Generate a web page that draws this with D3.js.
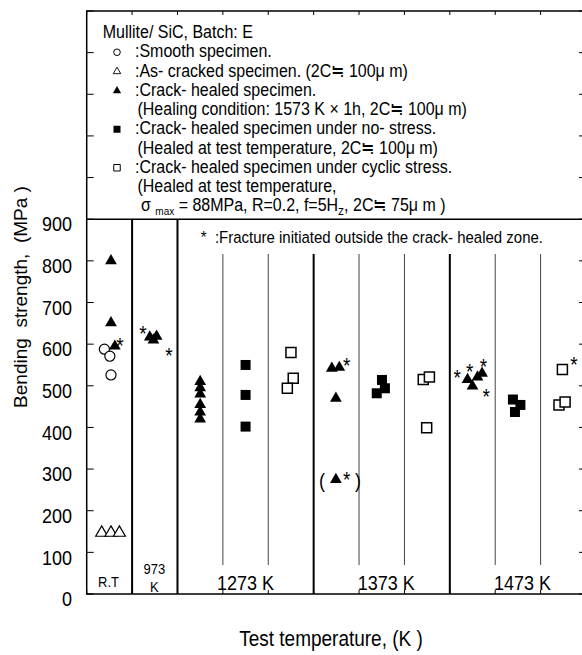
<!DOCTYPE html>
<html>
<head>
<meta charset="utf-8">
<script src="https://cdn.jsdelivr.net/npm/d3@7"></script>
<style>
  body { margin: 0; background: #fff; }
  svg { display: block; font-family: "Liberation Sans", Arial, sans-serif; }
  text { white-space: pre; }
</style>
</head>
<body>
<div id="chart"></div>
<script>
// -- data --
// pos = horizontal position in column units (each column is one unit wide), mpa = bending strength
const smooth = [{pos: 0.39, mpa: 588}, {pos: 0.51, mpa: 571}, {pos: 0.535, mpa: 526}];
const asCracked = [{pos: 0.33, mpa: 147}, {pos: 0.535, mpa: 147}, {pos: 0.72, mpa: 147}];
const crackHealed = [
  {pos: 0.535, mpa: 800}, {pos: 0.535, mpa: 651}, {pos: 0.62, mpa: 595},          // R.T
  {pos: 1.39, mpa: 617}, {pos: 1.54, mpa: 619}, {pos: 1.47, mpa: 610},            // 973 K
  {pos: 2.5, mpa: 510}, {pos: 2.5, mpa: 495}, {pos: 2.5, mpa: 480},
  {pos: 2.5, mpa: 455}, {pos: 2.5, mpa: 437}, {pos: 2.5, mpa: 420},               // 1273 K
  {pos: 5.40, mpa: 542}, {pos: 5.565, mpa: 544}, {pos: 5.49, mpa: 470},           // 1373 K
  {pos: 5.49, mpa: 275, bracketed: true},
  {pos: 8.39, mpa: 515}, {pos: 8.50, mpa: 499}, {pos: 8.61, mpa: 521}, {pos: 8.71, mpa: 530} // 1473 K
];
const healedNoStress = [
  {pos: 3.5, mpa: 550}, {pos: 3.5, mpa: 478}, {pos: 3.5, mpa: 402},
  {pos: 6.505, mpa: 514}, {pos: 6.57, mpa: 494}, {pos: 6.39, mpa: 482},
  {pos: 9.39, mpa: 467}, {pos: 9.555, mpa: 454}, {pos: 9.435, mpa: 437}
];
const healedCyclic = [
  {pos: 4.5, mpa: 580}, {pos: 4.55, mpa: 518}, {pos: 4.42, mpa: 494},
  {pos: 7.415, mpa: 515}, {pos: 7.55, mpa: 521}, {pos: 7.49, mpa: 399},
  {pos: 10.48, mpa: 539}, {pos: 10.405, mpa: 454}, {pos: 10.54, mpa: 461}
];
// asterisks: fracture initiated outside the crack-healed zone
const outsideFracture = [
  {pos: 0.73, mpa: 610}, {pos: 1.24, mpa: 638}, {pos: 1.81, mpa: 586},
  {pos: 5.73, mpa: 562}, {pos: 5.73, mpa: 287},
  {pos: 8.165, mpa: 533}, {pos: 8.44, mpa: 547}, {pos: 8.74, mpa: 560}, {pos: 8.80, mpa: 487},
  {pos: 10.735, mpa: 563}
];

const yTicks = d3.range(0, 1401, 100);
const yTickLabels = d3.range(0, 901, 100);
const thickDividers = [1, 2, 5, 8];
const thinDividers = [3, 4, 6, 7, 9, 10];
const tempLabels = [
  {pos: 0.48, lines: ["R.T"], small: true},
  {pos: 1.49, lines: ["973", "K"], small: true},
  {pos: 3.5, lines: ["1273 K"]},
  {pos: 6.6, lines: ["1373 K"]},
  {pos: 9.6, lines: ["1473 K"]}
];
const legendRows = [
  {sym: null, text: "Mullite/ SiC, Batch: E"},
  {sym: "circle", text: ":Smooth specimen."},
  {sym: "openTri", text: ":As- cracked specimen. (2C≒ 100μ m)"},
  {sym: "tri", text: ":Crack- healed specimen."},
  {sym: null, text: "(Healing condition: 1573 K × 1h, 2C≒ 100μ m)"},
  {sym: "square", text: ":Crack- healed specimen under no- stress."},
  {sym: null, text: "(Healed at test temperature, 2C≒ 100μ m)"},
  {sym: "openSquare", text: ":Crack- healed specimen under cyclic stress."},
  {sym: null, text: "(Healed at test temperature,"},
  {sym: null, text: "sigma"}
];

// -- layout --
const width = 582, height = 655;
const SY = 1.12; // the original's lettering is a little taller than wide
const x = d3.scaleLinear().domain([0, 11]).range([86.7, 586]);
const y = d3.scaleLinear().domain([0, 1400]).range([594, 11]);

const svg = d3.select("#chart").append("svg")
  .attr("width", width)
  .attr("height", height);

function label(g, px, py, str, size, anchor = "start") {
  return g.append("text")
    .attr("transform", `translate(${px},${py}) scale(1,${SY})`)
    .attr("font-size", size)
    .attr("text-anchor", anchor)
    .attr("fill", "#000")
    .text(str);
}

// frame
const frame = svg.append("g").attr("stroke", "#000").attr("fill", "none");
frame.append("rect")
  .attr("x", x(0)).attr("y", y(1400))
  .attr("width", x(11) - x(0)).attr("height", y(0) - y(1400))
  .attr("stroke-width", 1.5);
frame.append("line")
  .attr("x1", x(0)).attr("x2", x(11))
  .attr("y1", y(900)).attr("y2", y(900))
  .attr("stroke-width", 1.5);

// ticks (inward on all sides)
const tickG = svg.append("g").attr("stroke", "#000").attr("stroke-width", 1);
tickG.selectAll(".yl").data(yTicks).join("line")
  .attr("x1", x(0)).attr("x2", x(0) + 7)
  .attr("y1", d => y(d)).attr("y2", d => y(d));
tickG.selectAll(".yr").data(yTicks).join("line")
  .attr("x1", x(11)).attr("x2", x(11) - 7)
  .attr("y1", d => y(d)).attr("y2", d => y(d));
tickG.selectAll(".xt").data(d3.range(0, 12)).join("line")
  .attr("x1", d => x(d)).attr("x2", d => x(d))
  .attr("y1", y(1400)).attr("y2", y(1400) + 4);
tickG.selectAll(".xb").data(d3.range(0, 12)).join("line")
  .attr("x1", d => x(d)).attr("x2", d => x(d))
  .attr("y1", y(0)).attr("y2", y(0) - 4);

// y tick labels
const yLab = svg.append("g");
yTickLabels.forEach(v => label(yLab, 72, y(v) + 5, String(v), 18, "end").attr("dy", "0.36em"));

// column dividers
const div = svg.append("g").attr("stroke", "#000");
div.selectAll(".thick").data(thickDividers).join("line")
  .attr("x1", d => x(d)).attr("x2", d => x(d))
  .attr("y1", d => d <= 2 ? y(900) : 254).attr("y2", y(0))
  .attr("stroke-width", 2);
div.selectAll(".thin").data(thinDividers).join("line")
  .attr("x1", d => x(d)).attr("x2", d => x(d))
  .attr("y1", 254).attr("y2", 565)
  .attr("stroke", "#444")
  .attr("stroke-width", 1);

// temperature labels inside the plot
const tl = svg.append("g");
tempLabels.forEach(t => {
  if (t.small) {
    if (t.lines.length === 1) {
      label(tl, x(t.pos), 587, t.lines[0], 13, "middle");
    } else {
      label(tl, x(t.pos), 574, t.lines[0], 13, "middle");
      label(tl, x(t.pos), 592, t.lines[1], 13, "middle");
    }
  } else {
    label(tl, x(t.pos), 590, t.lines[0], 18, "middle");
  }
});

// markers
const marks = svg.append("g");
const at = d => `translate(${x(d.pos)},${y(d.mpa)})`;

marks.selectAll(".smooth").data(smooth).join("path")
  .attr("transform", at)
  .attr("d", d3.symbol(d3.symbolCircle, 80))
  .attr("fill", "#fff").attr("stroke", "#000").attr("stroke-width", 1.2);

marks.selectAll(".cracked").data(asCracked).join("path")
  .attr("transform", at)
  .attr("d", d3.symbol(d3.symbolTriangle, 62))
  .attr("fill", "#fff").attr("stroke", "#000").attr("stroke-width", 1.2);

marks.selectAll(".healed").data(crackHealed).join("path")
  .attr("transform", at)
  .attr("d", d3.symbol(d3.symbolTriangle, 60))
  .attr("fill", "#000");

marks.selectAll(".nostress").data(healedNoStress).join("path")
  .attr("transform", at)
  .attr("d", d3.symbol(d3.symbolSquare, 100))
  .attr("fill", "#000");

marks.selectAll(".cyclic").data(healedCyclic).join("path")
  .attr("transform", at)
  .attr("d", d3.symbol(d3.symbolSquare, 100))
  .attr("fill", "#fff").attr("stroke", "#000").attr("stroke-width", 1.5);

// brackets round the low 1373 K value
crackHealed.filter(d => d.bracketed).forEach(d => {
  label(marks, x(d.pos) - 14, y(d.mpa) + 9, "(", 18, "middle");
  label(marks, x(d.pos) + 22, y(d.mpa) + 9, ")", 18, "middle");
});

marks.selectAll(".star").data(outsideFracture).join("text")
  .attr("transform", d => `translate(${x(d.pos)},${y(d.mpa)}) scale(1,${SY})`)
  .attr("dy", "0.6em")
  .attr("text-anchor", "middle")
  .attr("font-size", 19)
  .text("*");

// note on asterisks
label(svg, 543, 243, "*  :Fracture initiated outside the crack- healed zone.", 15, "end");

// legend
const lg = svg.append("g");
const rowY = i => 38 + i * 19.25;
legendRows.forEach((r, i) => {
  const by = rowY(i);
  const sy = by - 5;
  if (r.sym === "circle") {
    lg.append("circle").attr("cx", 117).attr("cy", sy).attr("r", 3.3)
      .attr("fill", "none").attr("stroke", "#000").attr("stroke-width", 1);
  } else if (r.sym === "openTri") {
    lg.append("path").attr("transform", `translate(117,${sy})`)
      .attr("d", d3.symbol(d3.symbolTriangle, 24))
      .attr("fill", "none").attr("stroke", "#000").attr("stroke-width", 0.9);
  } else if (r.sym === "tri") {
    lg.append("path").attr("transform", `translate(117,${sy})`)
      .attr("d", d3.symbol(d3.symbolTriangle, 30)).attr("fill", "#000");
  } else if (r.sym === "square") {
    lg.append("path").attr("transform", `translate(117,${sy})`)
      .attr("d", d3.symbol(d3.symbolSquare, 49)).attr("fill", "#000");
  } else if (r.sym === "openSquare") {
    lg.append("path").attr("transform", `translate(117,${sy})`)
      .attr("d", d3.symbol(d3.symbolSquare, 42))
      .attr("fill", "none").attr("stroke", "#000").attr("stroke-width", 1);
  }

  if (i === 0) {
    label(lg, 102.7, by, r.text, 16);
  } else if (r.text === "sigma") {
    const t = label(lg, 141, by, "", 16);
    t.append("tspan").text("σ ");
    t.append("tspan").attr("font-size", 10).attr("dy", 3).text("max");
    t.append("tspan").attr("dy", -3).text(" = 88MPa, R=0.2, f=5H");
    t.append("tspan").attr("font-size", 12).attr("dy", 3).text("z");
    t.append("tspan").attr("dy", -3).text(", 2C≒ 75μ m )");
  } else if (r.sym) {
    label(lg, 135, by, r.text, 16);
  } else {
    label(lg, 137.5, by, r.text, 16);
  }
});

// axis titles
svg.append("text")
  .attr("transform", "translate(27,297) rotate(-90)")
  .attr("text-anchor", "middle")
  .attr("font-size", 19)
  .text("Bending  strength,  (MPa )");

label(svg, 331, 646, "Test temperature, (K )", 19, "middle");
</script>
</body>
</html>
